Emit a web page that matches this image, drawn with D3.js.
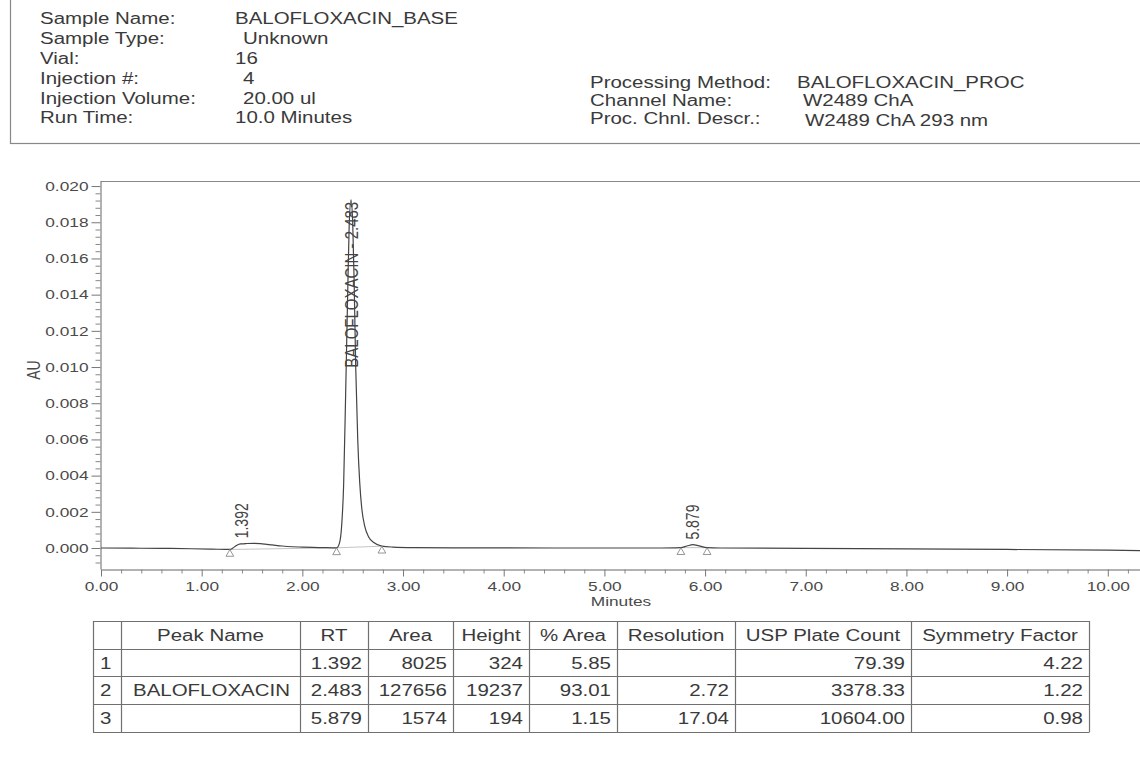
<!DOCTYPE html>
<html>
<head>
<meta charset="utf-8">
<script src="https://cdn.jsdelivr.net/npm/d3@7"></script>
<style>
  html, body { margin: 0; padding: 0; background: #fff; }
  svg { display: block; font-family: "Liberation Sans", Arial, Helvetica, sans-serif; }
</style>
</head>
<body>
<svg id="chart" width="1140" height="758"></svg>
<script>
// ---- report header fields ----
const sampleLabels = ["Sample Name:", "Sample Type:", "Vial:", "Injection #:", "Injection Volume:", "Run Time:"];
const sampleValues = ["BALOFLOXACIN_BASE", "Unknown", "16", "4", "20.00 ul", "10.0 Minutes"];
const methodLabels = ["Processing Method:", "Channel Name:", "Proc. Chnl. Descr.:"];
const methodValues = ["BALOFLOXACIN_PROC", "W2489 ChA", "W2489 ChA 293 nm"];

// ---- chromatogram trace (time in minutes, absorbance in AU) ----
const traceMinutes = [
  0.00, 0.30, 0.60, 0.90, 1.10, 1.28, 1.31, 1.34, 1.37, 1.392, 1.45, 1.52, 1.60, 1.70, 1.80, 1.90,
  2.00, 2.10, 2.20, 2.30, 2.34, 2.37, 2.39, 2.41, 2.43, 2.45, 2.465, 2.483, 2.50, 2.515, 2.53,
  2.55, 2.57, 2.59, 2.62, 2.66, 2.71, 2.79, 2.90, 3.10, 3.50, 4.50, 5.50, 5.70, 5.76, 5.82,
  5.879, 5.94, 6.02, 6.15, 7.00, 8.00, 9.00, 10.00, 10.32
];
const traceAU = [
  0.00000, -0.00001, -0.00002, -0.00004, -0.00006, -0.00008, 0.00000, 0.00012, 0.00021, 0.00023,
  0.00025, 0.00026, 0.00023, 0.00017, 0.00011, 0.00007, 0.00005, 0.00003, 0.00002, 0.00001,
  0.00001, 0.00030, 0.00120, 0.00350, 0.00850, 0.01400, 0.01780, 0.01924, 0.01800, 0.01450,
  0.01000, 0.00600, 0.00360, 0.00220, 0.00120, 0.00060, 0.00030, 0.00010, 0.00005, 0.00002,
  0.00001, 0.00000, 0.00000, 0.00001, 0.00002, 0.00011, 0.00019, 0.00012, 0.00002, 0.00000,
  -0.00002, -0.00005, -0.00008, -0.00012, -0.00014
];

// ---- integration start/end markers ----
const markerMinutes = [1.28, 2.34, 2.79, 5.76, 6.02];
const markerAU = [-0.00008, 0.00001, 0.00010, 0.00002, 0.00002];
const baselinePairs = [[0, 1], [1, 2], [3, 4]];

// ---- peak results ----
const peakIndex = [1, 2, 3];
const peakName = ["", "BALOFLOXACIN", ""];
const peakRT = [1.392, 2.483, 5.879];
const peakArea = [8025, 127656, 1574];
const peakHeight = [324, 19237, 194];          // microvolts
const peakPctArea = [5.85, 93.01, 1.15];
const peakResolution = [null, 2.72, 17.04];
const peakPlateCount = [79.39, 3378.33, 10604.00];
const peakSymmetry = [4.22, 1.22, 0.98];
const peakApexAU = [0.00026, 0.01924, 0.00019];

const tableHeaders = ["", "Peak Name", "RT", "Area", "Height", "% Area", "Resolution", "USP Plate Count", "Symmetry Factor"];

// ---- axis ticks ----
const yTickValues = [0, 0.002, 0.004, 0.006, 0.008, 0.010, 0.012, 0.014, 0.016, 0.018, 0.020];
const yTickLabels = ["0.000", "0.002", "0.004", "0.006", "0.008", "0.010", "0.012", "0.014", "0.016", "0.018", "0.020"];
const xTickValues = [0, 1, 2, 3, 4, 5, 6, 7, 8, 9, 10];
const xTickLabels = ["0.00", "1.00", "2.00", "3.00", "4.00", "5.00", "6.00", "7.00", "8.00", "9.00", "10.00"];

// ---------------------------------------------------------------
const SX = 1.28;                 // printed text is set slightly wide
const INK = "#3a3a3a";
const svg = d3.select("#chart");

function txt(sel, x, y, s, opt = {}) {
  const t = sel.append("text")
    .attr("transform", `translate(${x},${y}) scale(${SX},1)` + (opt.rotate ? ` rotate(${opt.rotate})` : ""))
    .attr("text-anchor", opt.anchor || "start")
    .attr("font-size", opt.size || 16)
    .attr("fill", opt.fill || INK)
    .text(s);
  if (opt.dy) t.attr("dy", opt.dy);
  return t;
}

// ---- header box ----
svg.append("rect")
  .attr("x", 10.5).attr("y", -10).attr("width", 1200).attr("height", 153.5)
  .attr("fill", "none").attr("stroke", "#888").attr("stroke-width", 1.2);

const headRowY = [19, 39, 59, 79, 99, 118];
const headValX = [235, 243, 235, 243, 243, 235];
const header = svg.append("g");
sampleLabels.forEach((s, i) => {
  txt(header, 40, headRowY[i] + 5, s, { size: 16 });
  txt(header, headValX[i], headRowY[i] + 5, sampleValues[i], { size: 16 });
});
const methRowY = [83, 101, 119];
const methValX = [797, 803, 805];
const methValDy = [0, 0, 2];
methodLabels.forEach((s, i) => {
  txt(header, 590, methRowY[i] + 5, s, { size: 16 });
  txt(header, methValX[i], methRowY[i] + 5 + methValDy[i], methodValues[i], { size: 16 });
});

// ---- chromatogram ----
const x = d3.scaleLinear().domain([0, 10.32]).range([101, 1140]);
const y = d3.scaleLinear().domain([-0.00116, 0.02028]).range([569, 181]);
const plot = svg.append("g");

// top frame line
plot.append("line")
  .attr("x1", 100.5).attr("x2", 1140).attr("y1", 181.5).attr("y2", 181.5)
  .attr("stroke", "#888").attr("stroke-width", 1);

// y axis: major + minor ticks
const yAxisG = plot.append("g").attr("transform", "translate(100.5,0)");
yAxisG.call(d3.axisLeft(y).tickValues(yTickValues).tickSize(9).tickSizeOuter(0)
  .tickFormat((d, i) => yTickLabels[i]));
yAxisG.select(".domain").attr("stroke", "#666");
yAxisG.selectAll(".tick line").attr("stroke", "#777");
yAxisG.selectAll(".tick text")
  .attr("x", -12 / SX).attr("transform", `scale(${SX},1)`)
  .attr("font-size", 13.5).attr("fill", "#4a4a4a")
  .attr("font-family", "Liberation Sans, Arial, sans-serif");
const yMinor = d3.range(-0.0008, 0.02001, 0.0004).filter(v => Math.abs(Math.round(v / 0.002) * 0.002 - v) > 1e-7);
const yMinorG = plot.append("g").attr("transform", "translate(100.5,0)");
yMinorG.call(d3.axisLeft(y).tickValues(yMinor).tickSize(5).tickFormat(""));
yMinorG.select(".domain").remove();
yMinorG.selectAll(".tick line").attr("stroke", "#888");

// x axis: major + minor ticks
const xAxisG = plot.append("g").attr("transform", "translate(0,569.5)");
xAxisG.call(d3.axisBottom(x).tickValues(xTickValues).tickSize(7).tickSizeOuter(0)
  .tickFormat((d, i) => xTickLabels[i]));
xAxisG.select(".domain").attr("stroke", "#666");
xAxisG.selectAll(".tick line").attr("stroke", "#777");
xAxisG.selectAll(".tick text")
  .attr("transform", `scale(${SX},1)`).attr("y", 12)
  .attr("font-size", 13.5).attr("fill", "#4a4a4a")
  .attr("font-family", "Liberation Sans, Arial, sans-serif");
const xMinor = d3.range(0.2, 10.21, 0.2).filter(v => Math.abs(Math.round(v) - v) > 1e-6);
const xMinorG = plot.append("g").attr("transform", "translate(0,569.5)");
xMinorG.call(d3.axisBottom(x).tickValues(xMinor).tickSize(4).tickFormat(""));
xMinorG.select(".domain").remove();
xMinorG.selectAll(".tick line").attr("stroke", "#888");

// axis titles
txt(plot, 40, 370, "AU", { size: 14, rotate: -90, anchor: "middle", fill: "#4a4a4a" });
txt(plot, 621, 606, "Minutes", { size: 13.5, anchor: "middle", fill: "#4a4a4a" });

// integration baselines
baselinePairs.forEach(([a, b]) => {
  plot.append("line")
    .attr("x1", x(markerMinutes[a])).attr("y1", y(markerAU[a]))
    .attr("x2", x(markerMinutes[b])).attr("y2", y(markerAU[b]))
    .attr("stroke", "#b5b5b5").attr("stroke-width", 0.8);
});

// trace
const traceData = traceMinutes.map((t, i) => [t, traceAU[i]]);
plot.append("path")
  .datum(traceData)
  .attr("fill", "none").attr("stroke", "#444").attr("stroke-width", 1.2)
  .attr("stroke-linejoin", "round")
  .attr("d", d3.line().x(d => x(d[0])).y(d => y(d[1])).curve(d3.curveMonotoneX));

// start/end markers (open triangles under the trace)
const tri = d3.symbol().type(d3.symbolTriangle).size(26);
markerMinutes.forEach((t, i) => {
  plot.append("path")
    .attr("d", tri())
    .attr("transform", `translate(${x(t)},${y(markerAU[i]) + 4.6})`)
    .attr("fill", "#fff").attr("stroke", "#8a8a8a").attr("stroke-width", 0.9);
});

// peak labels (vertical, reading upward)
peakRT.forEach((rt, i) => {
  const label = peakName[i] ? `${peakName[i]} - ${d3.format(".3f")(rt)}` : d3.format(".3f")(rt);
  const px = x(rt);
  const py = y(peakApexAU[i]);
  const size = peakName[i] ? 15 : 14;
  const t = txt(plot, px, py - 5, label, { size, rotate: -90, anchor: "start", dy: "0.36em", fill: "#444" });
  const len = t.node().getComputedTextLength();
  if (py - 5 - len < 181) {
    // no room above the apex: hang the label down from the apex
    t.attr("transform", `translate(${px},${py + 2}) scale(${SX},1) rotate(-90)`).attr("text-anchor", "end");
  }
});

// ---- peak table ----
const colX = [93, 121, 300, 368, 453, 529, 617, 735, 911, 1089];
const rowY = [621, 649, 676, 704, 732];
const table = svg.append("g");
const lineColor = "#707070";
colX.forEach(cx => table.append("line")
  .attr("x1", cx + 0.5).attr("x2", cx + 0.5).attr("y1", rowY[0]).attr("y2", rowY[rowY.length - 1])
  .attr("stroke", lineColor).attr("stroke-width", 1.2));
rowY.forEach(ry => table.append("line")
  .attr("x1", colX[0]).attr("x2", colX[colX.length - 1] + 0.5).attr("y1", ry + 0.5).attr("y2", ry + 0.5)
  .attr("stroke", lineColor).attr("stroke-width", 1.2));

tableHeaders.forEach((h, c) => {
  if (!h) return;
  txt(table, (colX[c] + colX[c + 1]) / 2, (rowY[0] + rowY[1]) / 2 + 6, h, { size: 16, anchor: "middle" });
});

const f2 = d3.format(".2f"), f3 = d3.format(".3f"), fi = d3.format("d");
const tableRows = peakIndex.map((n, i) => [
  String(n), peakName[i], f3(peakRT[i]), fi(peakArea[i]), fi(peakHeight[i]), f2(peakPctArea[i]),
  peakResolution[i] == null ? "" : f2(peakResolution[i]), f2(peakPlateCount[i]), f2(peakSymmetry[i])
]);
tableRows.forEach((row, r) => {
  const cy = (rowY[r + 1] + rowY[r + 2]) / 2 + 6;
  row.forEach((v, c) => {
    if (!v) return;
    if (c === 0) txt(table, colX[0] + 7, cy, v, { size: 16 });
    else if (c === 1) txt(table, colX[1] + 12, cy, v, { size: 16 });
    else txt(table, colX[c + 1] - 6, cy, v, { size: 16, anchor: "end" });
  });
});
</script>
</body>
</html>
